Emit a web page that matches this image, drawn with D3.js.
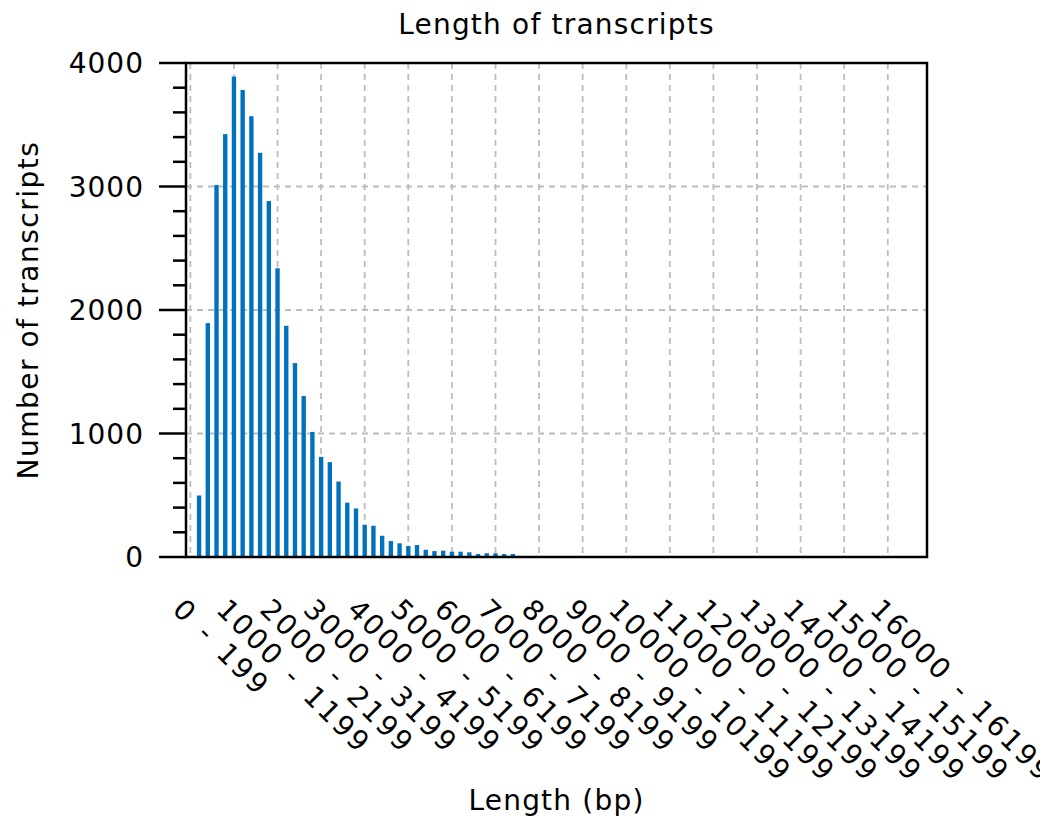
<!DOCTYPE html>
<html>
<head>
<meta charset="utf-8">
<script src="https://cdn.jsdelivr.net/npm/d3@7"></script>
<style>
	body { margin: 0; background: white; }
	text { font-family: 'DejaVu Sans', sans-serif; fill: black; }
</style>
</head>
<body>
<svg width="1040" height="825"></svg>
<script>
// counts per 200 bp bin, bin i covers i*200 .. i*200+199
let counts = [
	0, 498, 1894, 3012, 3424, 3890, 3782, 3569, 3273, 2882,
	2338, 1872, 1570, 1304, 1013, 811, 768, 611, 440, 393,
	261, 253, 172, 129, 111, 89, 97, 59, 48, 51,
	43, 43, 38, 24, 30, 30, 24, 24, 3, 2,
	2, 1, 1, 1, 0, 1, 0, 0, 0, 0,
	0, 0, 0, 0, 0, 0, 0, 0, 0, 0,
	0, 0, 0, 0, 0, 0, 0, 0, 0, 0,
	0, 0, 0, 0, 0, 0, 0, 0, 0, 0,
	0, 0, 0, 0, 0
]
let tickIdx = [0, 5, 10, 15, 20, 25, 30, 35, 40, 45, 50, 55, 60, 65, 70, 75, 80]
let tickLabels = [
	'0 - 199', '1000 - 1199', '2000 - 2199', '3000 - 3199', '4000 - 4199',
	'5000 - 5199', '6000 - 6199', '7000 - 7199', '8000 - 8199', '9000 - 9199',
	'10000 - 10199', '11000 - 11199', '12000 - 12199', '13000 - 13199',
	'14000 - 14199', '15000 - 15199', '16000 - 16199'
]
let yTicks = [0, 1000, 2000, 3000, 4000]
let yMinor = [200, 400, 600, 800, 1200, 1400, 1600, 1800, 2200, 2400, 2600, 2800, 3200, 3400, 3600, 3800]

let x0 = 186, x1 = 927, y0 = 63, y1 = 557
let blue = '#0072bd'
let grid = '#bdbdbd'

let svg = d3.select('svg')

let x = d3.scaleLinear().domain([-0.5, counts.length - 0.5]).range([x0, x1])
let y = d3.scaleLinear().domain([0, 4000]).range([y1, y0])
let bw = x(0.5) - x(0)

// grid
svg.append('g').attr('id', 'gridY')
	.selectAll('line').data(yTicks.slice(1, -1)).join('line')
	.attr('x1', x0).attr('x2', x1)
	.attr('y1', d => y(d)).attr('y2', d => y(d))
	.attr('stroke', grid).attr('stroke-width', 1.8)
	.attr('stroke-dasharray', '6,5')
svg.append('g').attr('id', 'gridX')
	.selectAll('line').data(tickIdx).join('line')
	.attr('x1', d => x(d)).attr('x2', d => x(d))
	.attr('y1', y0).attr('y2', y1)
	.attr('stroke', grid).attr('stroke-width', 1.8)
	.attr('stroke-dasharray', '6,5')

// bars
svg.append('g').attr('id', 'bars')
	.selectAll('rect').data(counts).join('rect')
	.attr('x', (d, i) => x(i) - bw/2)
	.attr('width', bw)
	.attr('y', d => y(d))
	.attr('height', d => y1 - y(d))
	.attr('fill', blue)

// y axis ticks
let yAxis = svg.append('g').attr('id', 'yAxis')
yAxis.selectAll('.major').data(yTicks).join('line')
	.attr('class', 'major')
	.attr('x1', x0 - 27).attr('x2', x0)
	.attr('y1', d => y(d)).attr('y2', d => y(d))
	.attr('stroke', 'black').attr('stroke-width', 2.5)
yAxis.selectAll('.minor').data(yMinor).join('line')
	.attr('class', 'minor')
	.attr('x1', x0 - 13).attr('x2', x0)
	.attr('y1', d => y(d)).attr('y2', d => y(d))
	.attr('stroke', 'black').attr('stroke-width', 2.5)
yAxis.selectAll('text').data(yTicks).join('text')
	.attr('x', x0 - 42).attr('y', d => y(d))
	.attr('dy', '0.36em')
	.attr('text-anchor', 'end')
	.style('font-size', '28px')
	.style('letter-spacing', '1px')
	.text(d => d)

// x tick labels
svg.append('g').attr('id', 'xLabels')
	.selectAll('text').data(tickIdx).join('text')
	.attr('transform', d => `translate(${x(d) - 19}, 611) rotate(45)`)
	.style('font-size', '28px')
	.style('letter-spacing', '2.5px')
	.style('word-spacing', '3px')
	.text((d, i) => tickLabels[i])

// frame
svg.append('rect')
	.attr('x', x0).attr('y', y0)
	.attr('width', x1 - x0).attr('height', y1 - y0)
	.attr('fill', 'none').attr('stroke', 'black').attr('stroke-width', 2.5)

svg.append('text')
	.attr('x', (x0 + x1)/2).attr('y', 34)
	.attr('text-anchor', 'middle')
	.style('font-size', '28px').style('letter-spacing', '1.2px')
	.text('Length of transcripts')
svg.append('text')
	.attr('x', (x0 + x1)/2).attr('y', 810)
	.attr('text-anchor', 'middle')
	.style('font-size', '28px').style('letter-spacing', '1.2px')
	.text('Length (bp)')
svg.append('text')
	.attr('transform', `translate(38, ${(y0 + y1)/2}) rotate(-90)`)
	.attr('text-anchor', 'middle')
	.style('font-size', '28px').style('letter-spacing', '1.5px')
	.text('Number of transcripts')
</script>
</body>
</html>
